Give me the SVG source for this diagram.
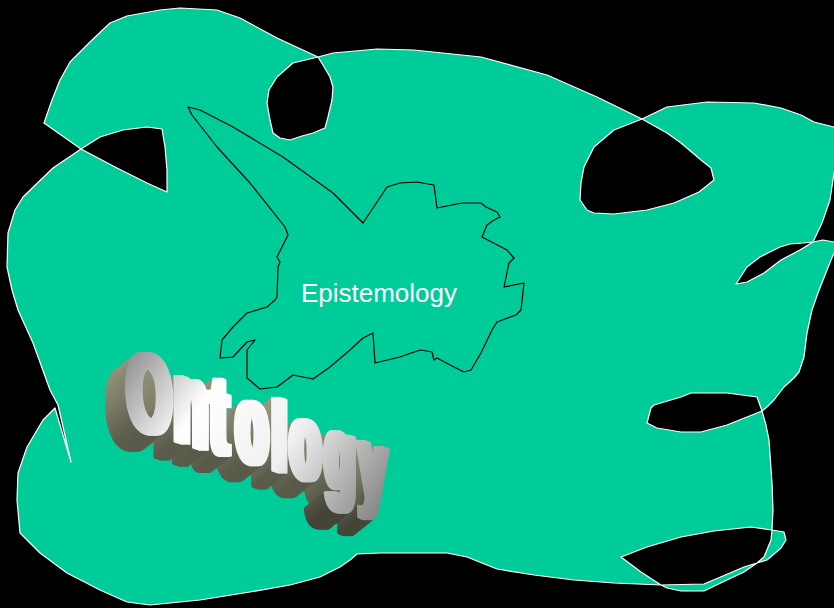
<svg xmlns="http://www.w3.org/2000/svg" xmlns:xlink="http://www.w3.org/1999/xlink" width="834" height="608" viewBox="0 0 834 608">
<style>
.blob{fill:#00CC99;fill-rule:evenodd;stroke:#ffffff;stroke-width:1.2;stroke-linejoin:round}
.outline{fill:none;stroke:#000000;stroke-width:1.2;stroke-linejoin:round}
.label{font-family:"Liberation Sans",Arial,sans-serif;font-size:26px;fill:#ffffff}
.lt{font-family:"Liberation Sans",Arial,sans-serif;font-weight:700;stroke-linejoin:round}
.ex{fill:url(#ext);stroke:url(#ext);stroke-width:3}
</style>
<defs>
<linearGradient id="ext" x1="0" y1="0" x2="0" y2="1">
<stop offset="0" stop-color="#a6a68e"/>
<stop offset="0.55" stop-color="#7c7c67"/>
<stop offset="1" stop-color="#444437"/>
</linearGradient>
<linearGradient id="face" gradientUnits="userSpaceOnUse" x1="130" y1="340" x2="390" y2="520">
<stop offset="0" stop-color="#888888"/>
<stop offset="0.3" stop-color="#ffffff"/>
<stop offset="0.6" stop-color="#f0f0f0"/>
<stop offset="1" stop-color="#7a7a7a"/>
</linearGradient>
<g id="ontLetters" class="lt">
<text transform="translate(127.5,425.3) skewY(18.3) scale(0.5,1)" font-size="112">O</text>
<text transform="translate(174.5,439.4) skewY(18.3) scale(0.5,1.12)" font-size="108">n</text>
<text transform="translate(210.5,450.2) skewY(18.3) scale(0.5,1.08)" font-size="104">t</text>
<text transform="translate(236.5,458) skewY(18.3) scale(0.5,1.12)" font-size="101.5">o</text>
<text transform="translate(272.5,468.8) skewY(18.3) scale(0.5,1)" font-size="99">l</text>
<text transform="translate(290.5,474.2) skewY(18.3) scale(0.5,1.12)" font-size="97.5">o</text>
<text transform="translate(325.5,484.7) skewY(18.3) scale(0.5,1.1)" font-size="95">g</text>
<text transform="translate(359.5,495) skewY(18.3) scale(0.5,1.1)" font-size="92.5">y</text>
</g>
<g id="ontFat">
<use href="#ontLetters" xlink:href="#ontLetters" transform="translate(-4,0)"/>
<use href="#ontLetters" xlink:href="#ontLetters" transform="translate(-2,0)"/>
<use href="#ontLetters" xlink:href="#ontLetters"/>
<use href="#ontLetters" xlink:href="#ontLetters" transform="translate(2,0)"/>
<use href="#ontLetters" xlink:href="#ontLetters" transform="translate(4,0)"/>
</g>
<mask id="ontMask" maskUnits="userSpaceOnUse" x="0" y="0" width="834" height="608">
<use xlink:href="#ontFat" href="#ontFat" fill="#ffffff" stroke="#ffffff" stroke-width="3"/>
</mask>
</defs>
<rect x="0" y="0" width="834" height="608" fill="#000000"/>
<g id="shapes">
<path class="blob" d="M44,123 L52,100 L60,80 L70,62 L90,42 L110,23 L127,16 L160,10 L180,8 L217,10 L240,18 L277,38 L318,57 L333,53 L377,49 L414,50 L481,57 L547,75 L597,97 L642,119 L667,107 L707,102 L754,103 L781,108 L801,115 L814,122 L834,127 L842,150 L834,173 L830,200 L822,223 L813,242 L823,240 L834,242 L842,248 L834,253 L827,270 L818,293 L812,310 L807,333 L804,357 L799,372 L794,378 L784,387 L774,400 L767,407 L762,411 L766,425 L769,440 L772,483 L773,510 L772,530 L784,532 L786,540 L781,548 L767,560 L757,563 L744,572 L727,580 L704,591 L681,591 L667,588 L661,585 L614,583 L574,580 L534,575 L497,569 L467,557 L447,553 L420,553 L380,553 L357,554 L350,560 L340,567 L320,577 L290,585 L250,592 L200,600 L150,605 L127,602 L100,590 L67,573 L40,553 L20,533 L17,500 L18,473 L27,447 L43,420 L55,408 L71,462 L58,405 L50,390 L33,343 L18,310 L12,290 L7,267 L8,233 L15,210 L23,197 L53,168 L81,149 Z
M318,57 L323,65 L330,77 L333,87 L332,100 L328,117 L325,128 L313,133 L302,136 L290,140 L280,138 L273,133 L270,120 L267,103 L269,90 L277,77 L293,63 Z
M81,149 L100,137 L123,130 L147,127 L162,129 L165,147 L167,170 L167,192 L147,183 L117,168 Z
M642,119 L667,133 L681,143 L701,160 L711,168 L714,180 L699,192 L674,203 L647,210 L614,214 L594,213 L587,210 L580,200 L581,183 L584,167 L594,147 L614,130 Z
M813,242 L803,243 L790,244 L780,247 L770,252 L760,257 L747,267 L736,284 L747,282 L764,273 L781,260 L800,250 Z
M762,411 L757,397 L727,393 L691,393 L681,397 L654,405 L651,408 L647,423 L657,428 L681,432 L701,432 L727,425 Z
M772,530 L751,527 L714,531 L681,537 L647,547 L621,557 L641,572 L661,585 L704,584 L744,567 L757,563 L764,557 L771,540 Z"/>
</g>
<g id="connectors"></g>
<g id="epistemology">
<path class="outline" d="M188,107 L200,110 L233,127 L283,157 L333,193 L363,223 L387,187 L400,183 L417,182 L434,185 L437,208 L462,203 L481,203 L486,207 L497,212 L500,217 L494,220 L487,225 L482,237 L507,250 L514,258 L509,263 L504,287 L524,283 L521,310 L516,315 L497,322 L492,330 L481,353 L471,370 L464,372 L454,367 L437,358 L434,360 L432,352 L421,350 L414,352 L400,357 L375,363 L373,333 L363,338 L350,350 L330,367 L313,379 L293,375 L277,387 L260,389 L247,378 L247,350 L255,340 L247,342 L233,357 L220,358 L222,340 L233,327 L247,313 L267,307 L275,300 L277,297 L278,267 L280,262 L277,257 L282,247 L288,235 L285,227 L250,183 L217,147 L192,115 Z"/>
<text class="label" x="379" y="302" text-anchor="middle">Epistemology</text>
</g>
<g id="ontology">
<use class="ex" href="#ontFat" xlink:href="#ontFat" transform="translate(-20,16)"/>
<use class="ex" href="#ontFat" xlink:href="#ontFat" transform="translate(-18.3,14.7)"/>
<use class="ex" href="#ontFat" xlink:href="#ontFat" transform="translate(-16.7,13.3)"/>
<use class="ex" href="#ontFat" xlink:href="#ontFat" transform="translate(-15,12)"/>
<use class="ex" href="#ontFat" xlink:href="#ontFat" transform="translate(-13.3,10.7)"/>
<use class="ex" href="#ontFat" xlink:href="#ontFat" transform="translate(-11.7,9.3)"/>
<use class="ex" href="#ontFat" xlink:href="#ontFat" transform="translate(-10,8)"/>
<use class="ex" href="#ontFat" xlink:href="#ontFat" transform="translate(-8.3,6.7)"/>
<use class="ex" href="#ontFat" xlink:href="#ontFat" transform="translate(-6.7,5.3)"/>
<use class="ex" href="#ontFat" xlink:href="#ontFat" transform="translate(-5,4)"/>
<use class="ex" href="#ontFat" xlink:href="#ontFat" transform="translate(-3.3,2.7)"/>
<use class="ex" href="#ontFat" xlink:href="#ontFat" transform="translate(-1.7,1.3)"/>
<rect x="90" y="320" width="330" height="230" fill="url(#face)" mask="url(#ontMask)"/>
</g>
</svg>
